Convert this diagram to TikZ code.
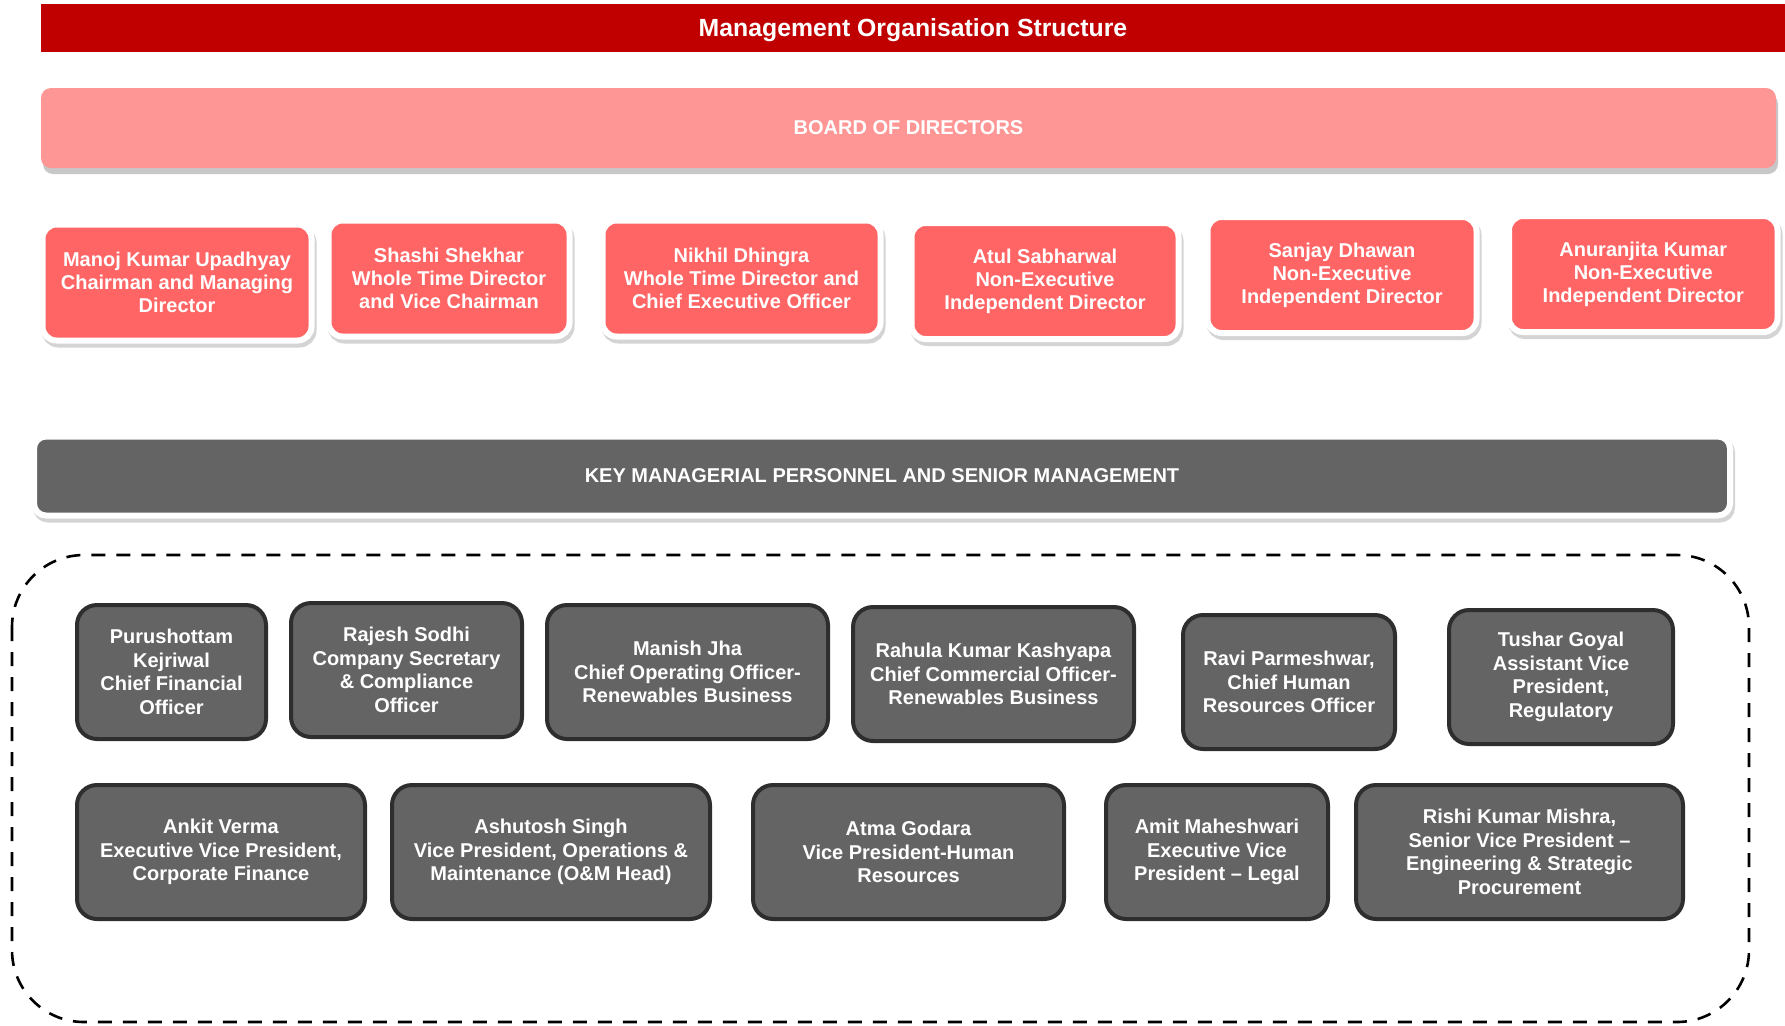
\documentclass[tikz,border=0pt]{standalone}
\usepackage{fontspec}
\setmainfont{Liberation Sans}
\usetikzlibrary{positioning}
\definecolor{titlered}{HTML}{C00000}
\definecolor{boardpink}{HTML}{FF9696}
\definecolor{dirred}{HTML}{FF6565}
\definecolor{kmpgray}{HTML}{646464}
\definecolor{kmpedge}{HTML}{2E2E2E}
\definecolor{shade}{HTML}{D4D4D4}

\begin{document}
\begin{tikzpicture}[
  x=0.5pt, y=-0.5pt,
  txt/.style={text=white, align=center, inner sep=0pt, outer sep=0pt, font=\bfseries\fontsize{10}{11.5}\selectfont},
  titlebar/.style={txt, fill=titlered, minimum width=872pt, minimum height=23.75pt, text depth=0pt,
    font=\bfseries\fontsize{12.4}{14}\selectfont},
  board/.style={txt, fill=boardpink, rounded corners=5pt, minimum width=867.5pt, minimum height=40pt,
    font=\bfseries\fontsize{10}{12}\selectfont,
    preaction={fill=black!22, transform canvas={xshift=1pt, yshift=-3pt}}},
  kmpbar/.style={txt, fill=kmpgray, draw=white, line width=3pt, rounded corners=6pt, minimum width=848pt, minimum height=39.5pt,
    preaction={fill=shade, draw=shade, transform canvas={xshift=1pt, yshift=-2pt}}},
  dirbox/.style={txt, fill=dirred, draw=white, line width=3pt, rounded corners=7pt, minimum height=58pt,
    preaction={fill=shade, draw=shade, transform canvas={xshift=1pt, yshift=-2pt}}},
  kmpbox/.style={txt, fill=kmpgray, draw=kmpedge, line width=2pt, rounded corners=10pt, minimum height=67pt,
    font=\bfseries\fontsize{10}{11.8}\selectfont},
  grpframe/.style={draw, dash pattern=on 7pt off 5.5pt, line width=1.3pt, rounded corners=36pt}
]
\useasboundingbox (0,0) rectangle (1785,1025);

% headings
\node[titlebar] (title) at (913,28) {Management Organisation Structure};
\node[board] (bod) at (908.5,128) {BOARD OF DIRECTORS};

% board members
\node[dirbox, minimum width=134.5pt] (manoj) at (177,282.5) {Manoj Kumar Upadhyay\\Chairman and Managing\\Director};
\node[dirbox, minimum width=120.5pt, right=8.5pt of manoj, yshift=2pt] (shashi) {Shashi Shekhar\\Whole Time Director\\and Vice Chairman};
\node[dirbox, minimum width=139pt, right=16.5pt of shashi] (nikhil) {Nikhil Dhingra\\Whole Time Director and\\Chief Executive Officer};
\node[dirbox, minimum width=133.5pt, right=15.5pt of nikhil, yshift=-1.25pt] (atul) {Atul Sabharwal\\Non-Executive\\Independent Director};
\node[dirbox, minimum width=134.5pt, right=14.5pt of atul, yshift=3pt] (sanjay) {Sanjay Dhawan\\Non-Executive\\Independent Director};
\node[dirbox, minimum width=134.25pt, right=16.25pt of sanjay, yshift=0.5pt] (anuranjita) {Anuranjita Kumar\\Non-Executive\\Independent Director};

% KMP and senior management
\node[kmpbar] (kmp) at (882,476) {KEY MANAGERIAL PERSONNEL AND SENIOR MANAGEMENT};
\draw[grpframe] (12,555) rectangle (1749,1022);

\node[kmpbox, minimum width=94.5pt] (purushottam) at (171.5,672) {Purushottam\\Kejriwal\\Chief Financial\\Officer};
\node[kmpbox, minimum width=115.5pt, right=12.5pt of purushottam, yshift=1pt] (rajesh) {Rajesh Sodhi\\Company Secretary\\\& Compliance\\Officer};
\node[kmpbox, minimum width=140.5pt, right=12.5pt of rajesh, yshift=-1pt] (manish) {Manish Jha\\Chief Operating Officer-\\Renewables Business};
\node[kmpbox, minimum width=140.5pt, right=12.5pt of manish, yshift=-1pt] (rahula) {Rahula Kumar Kashyapa\\Chief Commercial Officer-\\Renewables Business};
\node[kmpbox, minimum width=106pt, right=24.5pt of rahula, yshift=-4pt] (ravi) {Ravi Parmeshwar,\\Chief Human\\Resources Officer};
\node[kmpbox, minimum width=112pt, right=27pt of ravi, yshift=2.5pt] (tushar) {Tushar Goyal\\Assistant Vice\\President,\\Regulatory};

\node[kmpbox, minimum width=144pt] (ankit) at (221,852) {Ankit Verma\\Executive Vice President,\\Corporate Finance};
\node[kmpbox, minimum width=159pt, right=13.5pt of ankit] (ashutosh) {Ashutosh Singh\\Vice President, Operations \&\\Maintenance (O\&M Head)};
\node[kmpbox, minimum width=155.5pt, right=21.5pt of ashutosh] (atma) {Atma Godara\\Vice President-Human\\Resources};
\node[kmpbox, minimum width=111pt, right=21pt of atma] (amit) {Amit Maheshwari\\Executive Vice\\President -- Legal};
\node[kmpbox, minimum width=163.5pt, right=14pt of amit] (rishi) {Rishi Kumar Mishra,\\Senior Vice President --\\Engineering \& Strategic\\Procurement};
\end{tikzpicture}
\end{document}
